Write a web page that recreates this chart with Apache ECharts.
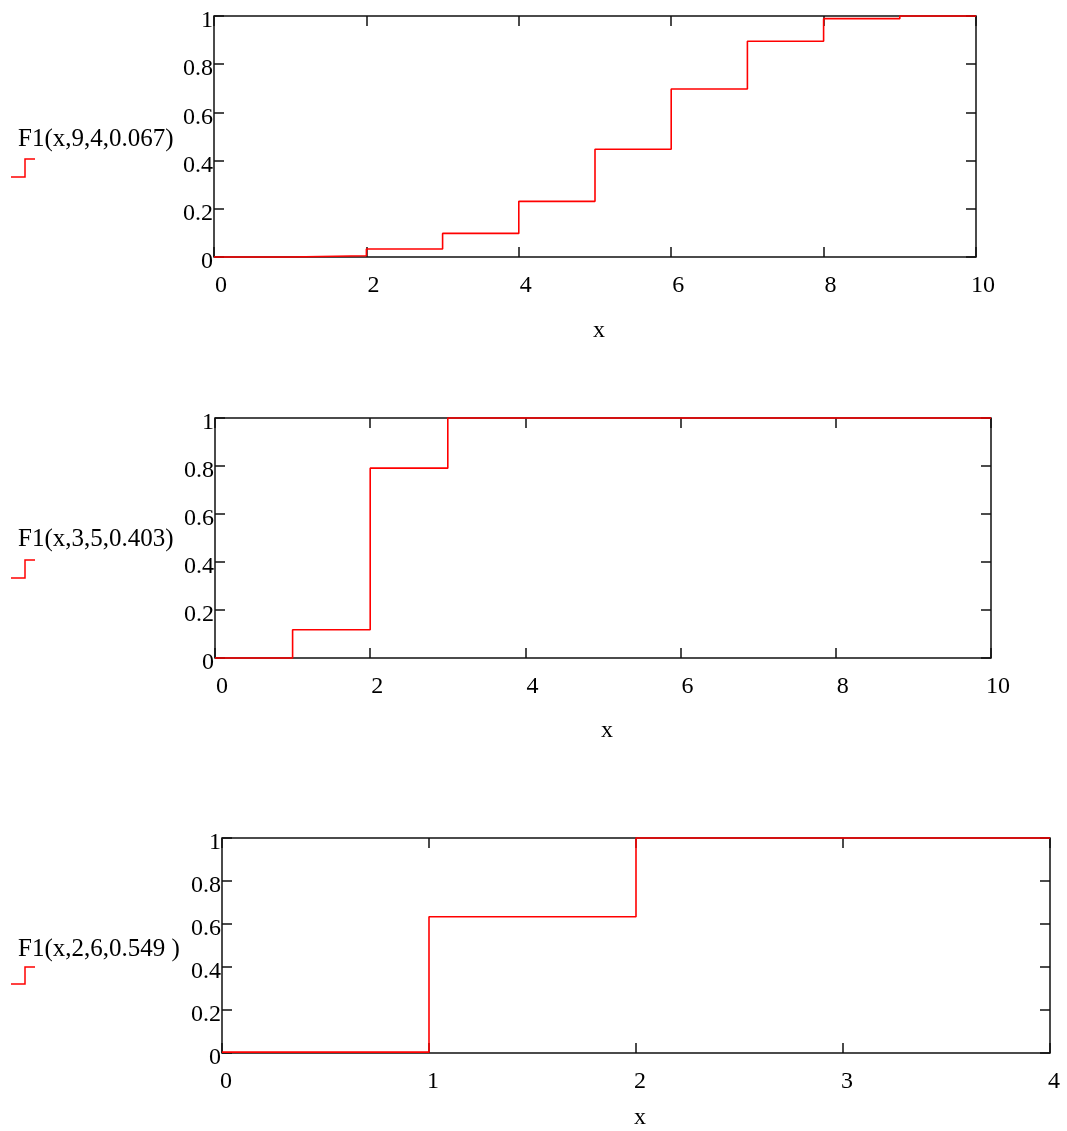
<!DOCTYPE html>
<html>
<head>
<meta charset="utf-8">
<script src="https://cdn.jsdelivr.net/npm/echarts@6/dist/echarts.min.js"></script>
<style>
html,body{margin:0;padding:0;background:#fff;}
#main{width:1067px;height:1131px;}
</style>
</head>
<body>
<div id="main"></div>
<script>
// ---- data ----
const xs1 = [0, 1, 2, 3, 4, 5, 6, 7, 8, 9, 10];
const cdf1 = [0, 0.005, 0.033, 0.098, 0.231, 0.447, 0.697, 0.895, 0.989, 1.0, 1.0];
const label1 = 'F1(x,9,4,0.067)';

const xs2 = [0, 1, 2, 3, 4, 5, 6, 7, 8, 9, 10];
const cdf2 = [0, 0.118, 0.791, 1.0, 1.0, 1.0, 1.0, 1.0, 1.0, 1.0, 1.0];
const label2 = 'F1(x,3,5,0.403)';

const xs3 = [0, 1, 2, 3, 4];
const cdf3 = [0.004, 0.634, 1.0, 1.0, 1.0];
const label3 = 'F1(x,2,6,0.549 )';

const xMax = [10, 10, 4];
const xStep = [2, 2, 1];
const xAxisName = 'x';

// ---- layout ----
const grids = [
  {left: 214, top: 16, width: 762, height: 241},
  {left: 215, top: 418, width: 776, height: 240},
  {left: 222, top: 838, width: 828, height: 216}
];
const nameGaps = [62, 61, 53];
const labelShift = [14, 14, 8];
const FONT = '"Liberation Serif", "Times New Roman", serif';
const RED = '#ff0000';
const INK = '#111';

const zip = (xs, ys) => xs.map((x, i) => [x, ys[i]]);
const series = [zip(xs1, cdf1), zip(xs2, cdf2), zip(xs3, cdf3)];

const gridOpts = grids.map(g => Object.assign({show: true, borderColor: INK, borderWidth: 1.5, backgroundColor: 'transparent'}, g));

const tick = {show: true, inside: true, length: 10, lineStyle: {color: INK, width: 1.5}};
const xAxes = [], yAxes = [], seriesOpts = [];
grids.forEach((g, i) => {
  xAxes.push({
    type: 'value', gridIndex: i, position: 'bottom', min: 0, max: xMax[i], interval: xStep[i],
    name: xAxisName, nameLocation: 'middle', nameGap: nameGaps[i],
    nameTextStyle: {fontFamily: FONT, fontSize: 24, color: '#000', padding: [0, 0, 0, 8]},
    axisLine: {show: false, onZero: false},
    axisTick: tick,
    axisLabel: {show: true, margin: 17, fontFamily: FONT, fontSize: 24, color: '#000', padding: [0, 0, 0, labelShift[i]]},
    splitLine: {show: false}
  });
  xAxes.push({
    type: 'value', gridIndex: i, position: 'top', min: 0, max: xMax[i], interval: xStep[i],
    axisLine: {show: false, onZero: false},
    axisTick: tick,
    axisLabel: {show: false},
    splitLine: {show: false}
  });
  yAxes.push({
    type: 'value', gridIndex: i, position: 'left', min: 0, max: 1, interval: 0.2,
    axisLine: {show: false, onZero: false},
    axisTick: tick,
    axisLabel: {show: true, margin: 1, fontFamily: FONT, fontSize: 24, color: '#000', verticalAlign: 'top', lineHeight: 10},
    splitLine: {show: false}
  });
  yAxes.push({
    type: 'value', gridIndex: i, position: 'right', min: 0, max: 1, interval: 0.2,
    axisLine: {show: false, onZero: false},
    axisTick: tick,
    axisLabel: {show: false},
    splitLine: {show: false}
  });
  seriesOpts.push({
    type: 'line', xAxisIndex: 2 * i, yAxisIndex: 2 * i, step: 'end',
    data: series[i], showSymbol: false, symbol: 'none', clip: false,
    lineStyle: {color: RED, width: 1.6}, z: 5, animation: false
  });
});

const labels = [label1, label2, label3];
const labelTops = [127, 527, 937];
const iconY = [[177, 159], [578, 560], [984, 967]];
const graphic = [];
labels.forEach((t, i) => {
  graphic.push({
    type: 'text', left: 18, top: labelTops[i], z: 10,
    style: {text: t, font: '25px ' + FONT, fill: '#000'}
  });
  graphic.push({
    type: 'polyline', z: 10,
    shape: {points: [[11, iconY[i][0]], [25, iconY[i][0]], [25, iconY[i][1]], [35, iconY[i][1]]]},
    style: {stroke: RED, lineWidth: 1.5, fill: null}
  });
});

const chart = echarts.init(document.getElementById('main'), null, {renderer: 'canvas'});
chart.setOption({
  backgroundColor: '#fff',
  animation: false,
  grid: gridOpts,
  xAxis: xAxes,
  yAxis: yAxes,
  series: seriesOpts,
  graphic: graphic
});
</script>
</body>
</html>
